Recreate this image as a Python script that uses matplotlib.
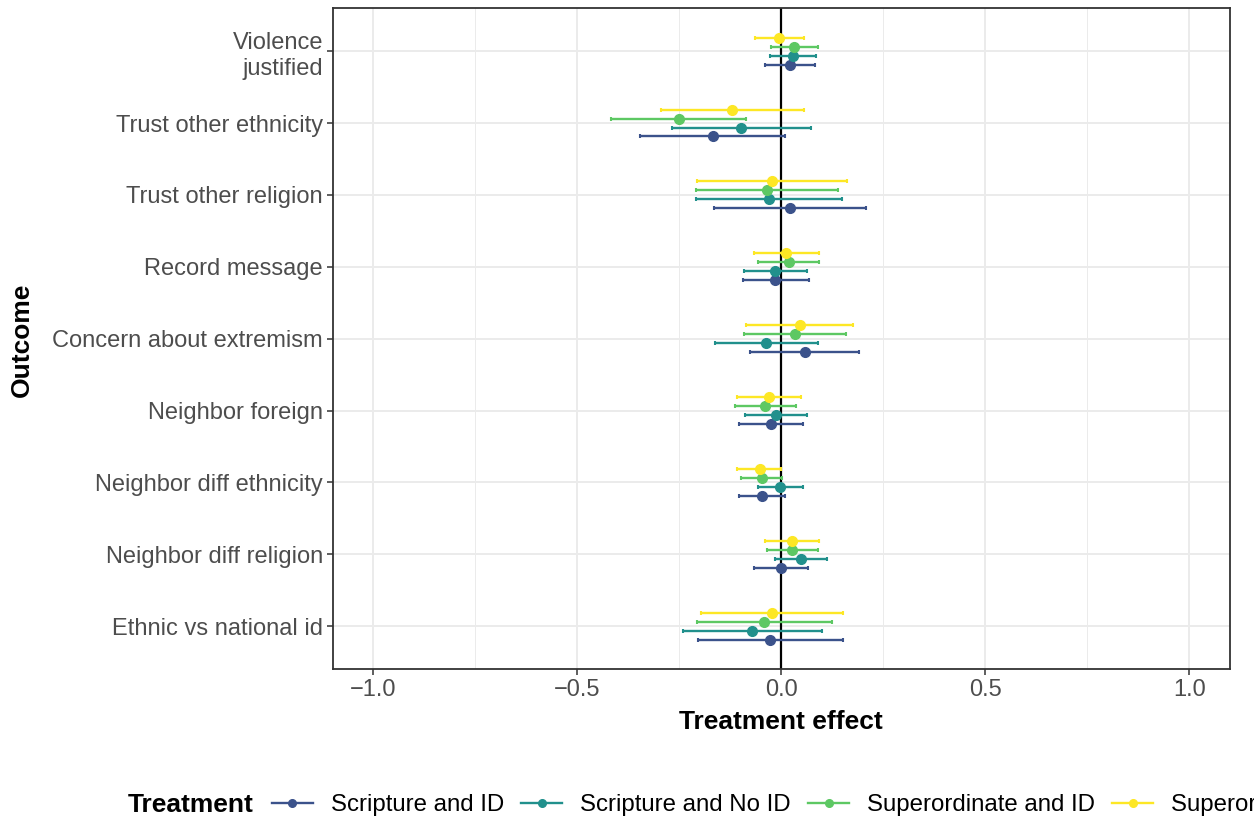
import numpy as np
import matplotlib.pyplot as plt
from matplotlib.lines import Line2D
from matplotlib.ticker import MultipleLocator

plt.rcParams['font.family'] = ['Liberation Sans', 'DejaVu Sans']

# ---- DATA (bottom -> top) ----
outcomes = ['Ethnic vs national id', 'Neighbor diff religion', 'Neighbor diff ethnicity',
            'Neighbor foreign', 'Concern about extremism', 'Record message',
            'Trust other religion', 'Trust other ethnicity', 'Violence\njustified']
treatments = ['Scripture and ID', 'Scripture and No ID',
              'Superordinate and ID', 'Superordinate and No ID']
colors = ['#3B528B', '#21908C', '#5DC863', '#FDE725']

est_scr_id = [-0.027, -0.001, -0.048, -0.026, 0.057, -0.015, 0.021, -0.168, 0.021]
lo_scr_id  = [-0.204, -0.068, -0.104, -0.105, -0.076, -0.095, -0.166, -0.346, -0.039]
hi_scr_id  = [0.150, 0.066, 0.008, 0.052, 0.190, 0.067, 0.208, 0.010, 0.082]

est_scr_noid = [-0.071, 0.048, -0.003, -0.014, -0.038, -0.015, -0.031, -0.098, 0.028]
lo_scr_noid  = [-0.241, -0.016, -0.057, -0.090, -0.163, -0.092, -0.209, -0.268, -0.029]
hi_scr_noid  = [0.100, 0.111, 0.052, 0.062, 0.090, 0.063, 0.148, 0.072, 0.086]

est_sup_id = [-0.042, 0.027, -0.047, -0.040, 0.033, 0.018, -0.036, -0.252, 0.032]
lo_sup_id  = [-0.207, -0.035, -0.100, -0.113, -0.091, -0.058, -0.210, -0.418, -0.025]
hi_sup_id  = [0.123, 0.089, 0.002, 0.036, 0.158, 0.093, 0.139, -0.087, 0.089]

est_sup_noid = [-0.024, 0.025, -0.052, -0.031, 0.045, 0.012, -0.024, -0.120, -0.006]
lo_sup_noid  = [-0.198, -0.040, -0.108, -0.109, -0.087, -0.068, -0.208, -0.295, -0.064]
hi_sup_noid  = [0.150, 0.092, 0.000, 0.048, 0.176, 0.092, 0.161, 0.055, 0.055]

series = [(est_scr_id, lo_scr_id, hi_scr_id),
          (est_scr_noid, lo_scr_noid, hi_scr_noid),
          (est_sup_id, lo_sup_id, hi_sup_id),
          (est_sup_noid, lo_sup_noid, hi_sup_noid)]

FS = 17
FS_T = 19
DARK = '#333333'

fig = plt.figure(figsize=(12.54, 8.24), dpi=100)
ax = fig.add_axes([332.7 / 1254, 1 - 669.3 / 824, (1230 - 332.7) / 1254, (669.3 - 8) / 824])

ypos = np.arange(1, len(outcomes) + 1)
offsets = [-0.1875, -0.0625, 0.0625, 0.1875]

ax.axvline(0, color='black', lw=1.6, zorder=2)

for (est, lo, hi), col, off in zip(series, colors, offsets):
    est = np.array(est); lo = np.array(lo); hi = np.array(hi)
    ax.errorbar(est, ypos + off, xerr=[est - lo, hi - est], fmt='o', color=col,
                ms=7, elinewidth=1.7, capsize=1.6, capthick=1.5, zorder=3)

ax.set_xlim(-1.1, 1.1)
ax.set_ylim(0.4, 9.6)
ax.set_yticks(ypos)
ax.set_yticklabels(outcomes, fontsize=FS, color='#4D4D4D', ha='right',
                   multialignment='right', linespacing=1.25)
ax.xaxis.set_minor_locator(MultipleLocator(0.25))
ax.set_xticks([-1.0, -0.5, 0.0, 0.5, 1.0])
ax.set_xticklabels(['\u22121.0', '\u22120.5', '0.0', '0.5', '1.0'], fontsize=FS, color='#4D4D4D')
ax.tick_params(axis='both', which='major', length=4, width=1.1, color=DARK, pad=3)
ax.tick_params(axis='x', which='minor', length=0)
ax.grid(True, which='major', color='#EBEBEB', lw=1.4, zorder=0)
ax.grid(True, which='minor', axis='x', color='#EBEBEB', lw=0.7, zorder=0)
ax.set_axisbelow(True)
for s in ax.spines.values():
    s.set_color(DARK)
    s.set_linewidth(1.3)

ax.set_xlabel('Treatment effect', fontsize=FS_T, fontweight='bold')
ax.xaxis.set_label_coords(0.5, (669.3 - 710) / 661.3)
fig.text(22 / 1254, 1 - 340 / 824, 'Outcome', fontsize=FS_T, fontweight='bold',
         rotation=90, ha='center', va='center')

# legend along the bottom (runs off the right edge, as in the original)
fig.text(128 / 1254, 1 - 805 / 824, 'Treatment', fontsize=FS_T, fontweight='bold',
         ha='left', va='center')
handles = [Line2D([], [], color=c, lw=1.7, marker='o', ms=5.5) for c in colors]
fig.legend(handles, treatments, loc='center left', bbox_to_anchor=(272 / 1254, 1 - 805 / 824),
           ncol=4, frameon=False, fontsize=17.3, borderpad=0, borderaxespad=0,
           handlelength=1.7, handletextpad=0.75, columnspacing=0.72)

fig.savefig('out.png', dpi=100)
